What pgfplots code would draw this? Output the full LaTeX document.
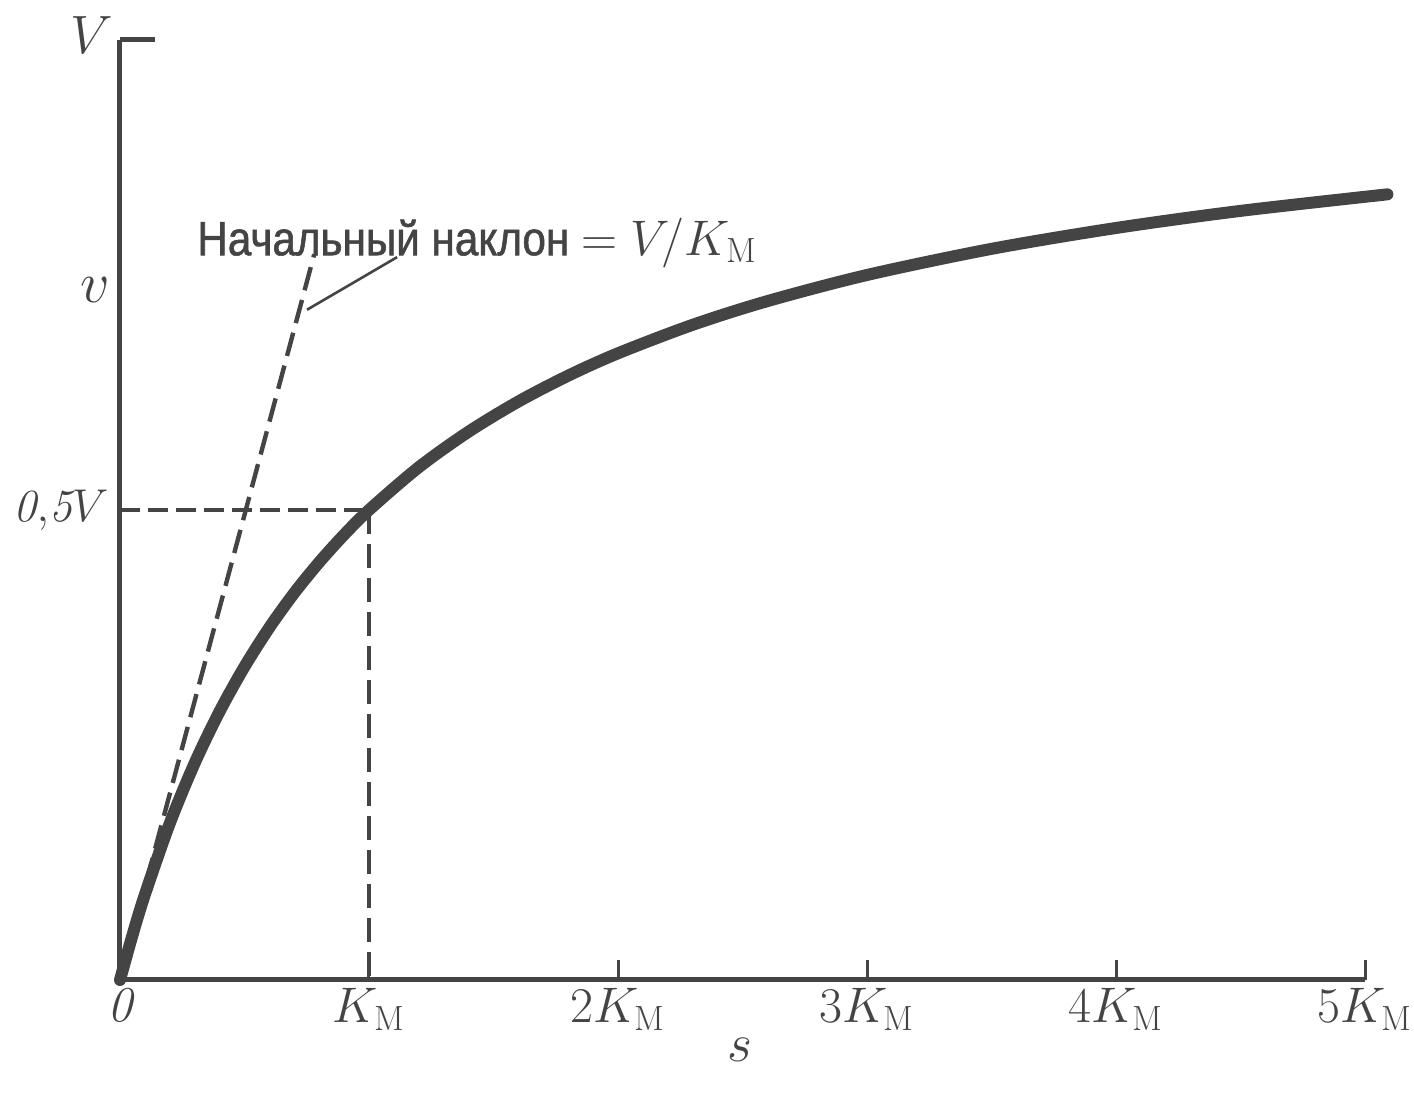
\RequirePackage{fix-cm}
\documentclass[border=0pt]{standalone}
\usepackage{fontspec}
\usepackage{pgfplots}
\pgfplotsset{compat=1.18}
\newfontfamily\cyr[FakeStretch=0.88, FakeBold=1.2]{Liberation Sans}
\definecolor{ink}{RGB}{68,68,68}
\begin{document}
\begin{tikzpicture}
\begin{axis}[
  anchor=origin, at={(0pt,0pt)},
  x=124.5pt, y=470pt,
  xmin=0, xmax=5, ymin=0, ymax=1,
  axis lines=left,
  x axis line style={-}, y axis line style={-},
  axis line style={line width=2.5pt, color=ink},
  xtick={0,1,2,3,4,5},
  xticklabels={$\mathit{0}$, $K_{\mathrm{M}}$, $2K_{\mathrm{M}}$, $3K_{\mathrm{M}}$, $4K_{\mathrm{M}}$, $5K_{\mathrm{M}}$},
  ytick=\empty,
  xtick align=inside,
  major tick length=10pt,
  tick style={line width=1.5pt, color=ink},
  xticklabel style={font=\fontsize{25}{28}\selectfont, text=ink, inner sep=1pt, yshift=-3pt},
  clip=false,
]
% Michaelis-Menten curve v = V s/(K_M + s)
\addplot[ink, line width=6pt, smooth, line cap=round] coordinates {
 (0,0) (0.05,0.0476) (0.1,0.0909) (0.2,0.1667) (0.3,0.2308) (0.4,0.2857)
 (0.5,0.3333) (0.6,0.375) (0.7,0.4118) (0.8,0.4444) (0.9,0.4737) (1.0,0.5)
 (1.2,0.5455) (1.4,0.5833) (1.6,0.6154) (1.8,0.6429) (2.0,0.6667)
 (2.3,0.6970) (2.6,0.7222) (3.0,0.75) (3.5,0.7778) (4.0,0.8) (4.5,0.8182) (5.09,0.8358)
};
% initial slope
\addplot[ink, line width=2.2pt, dash pattern=on 12pt off 5pt] coordinates {(0,0) (0.78,0.772)};
% 0.5V guide lines
\addplot[ink, line width=1.6pt, dash pattern=on 10pt off 4pt] coordinates {(0,0.5) (1,0.5)};
\addplot[ink, line width=2pt, dash pattern=on 12pt off 5pt] coordinates {(1,0.5) (1,0)};
% leader line
\addplot[ink, line width=1.3pt] coordinates {(0.751,0.713) (1.113,0.769)};
% top tick at V
\draw[ink, line width=2.5pt] (axis cs:0,1) -- (axis cs:0.14,1);
% labels
\node[text=ink, font=\fontsize{27}{30}\selectfont] at (axis cs:-0.112,1.005) {$V$};
\node[text=ink, font=\fontsize{29}{30}\selectfont] at (axis cs:-0.10,0.734) {$v$};
\node[text=ink, font=\fontsize{23}{26}\selectfont, anchor=east, inner sep=0pt] at (axis cs:-0.045,0.5) {$\mathit{0{,}5}V$};
\node[text=ink, font=\fontsize{27}{30}\selectfont] at (axis cs:2.49,-0.074) {$s$};
\node[text=ink, font=\fontsize{24}{26}\selectfont, anchor=base west, inner sep=0pt] at (axis cs:0.309,0.771) {\cyr Начальный наклон {\fontsize{25}{28}\selectfont$=V\!/K_{\mathrm{M}}$}};
\end{axis}
\pgfresetboundingbox
\path[use as bounding box] (-60pt,-58.5pt) rectangle (647pt,490pt);
\end{tikzpicture}
\end{document}
